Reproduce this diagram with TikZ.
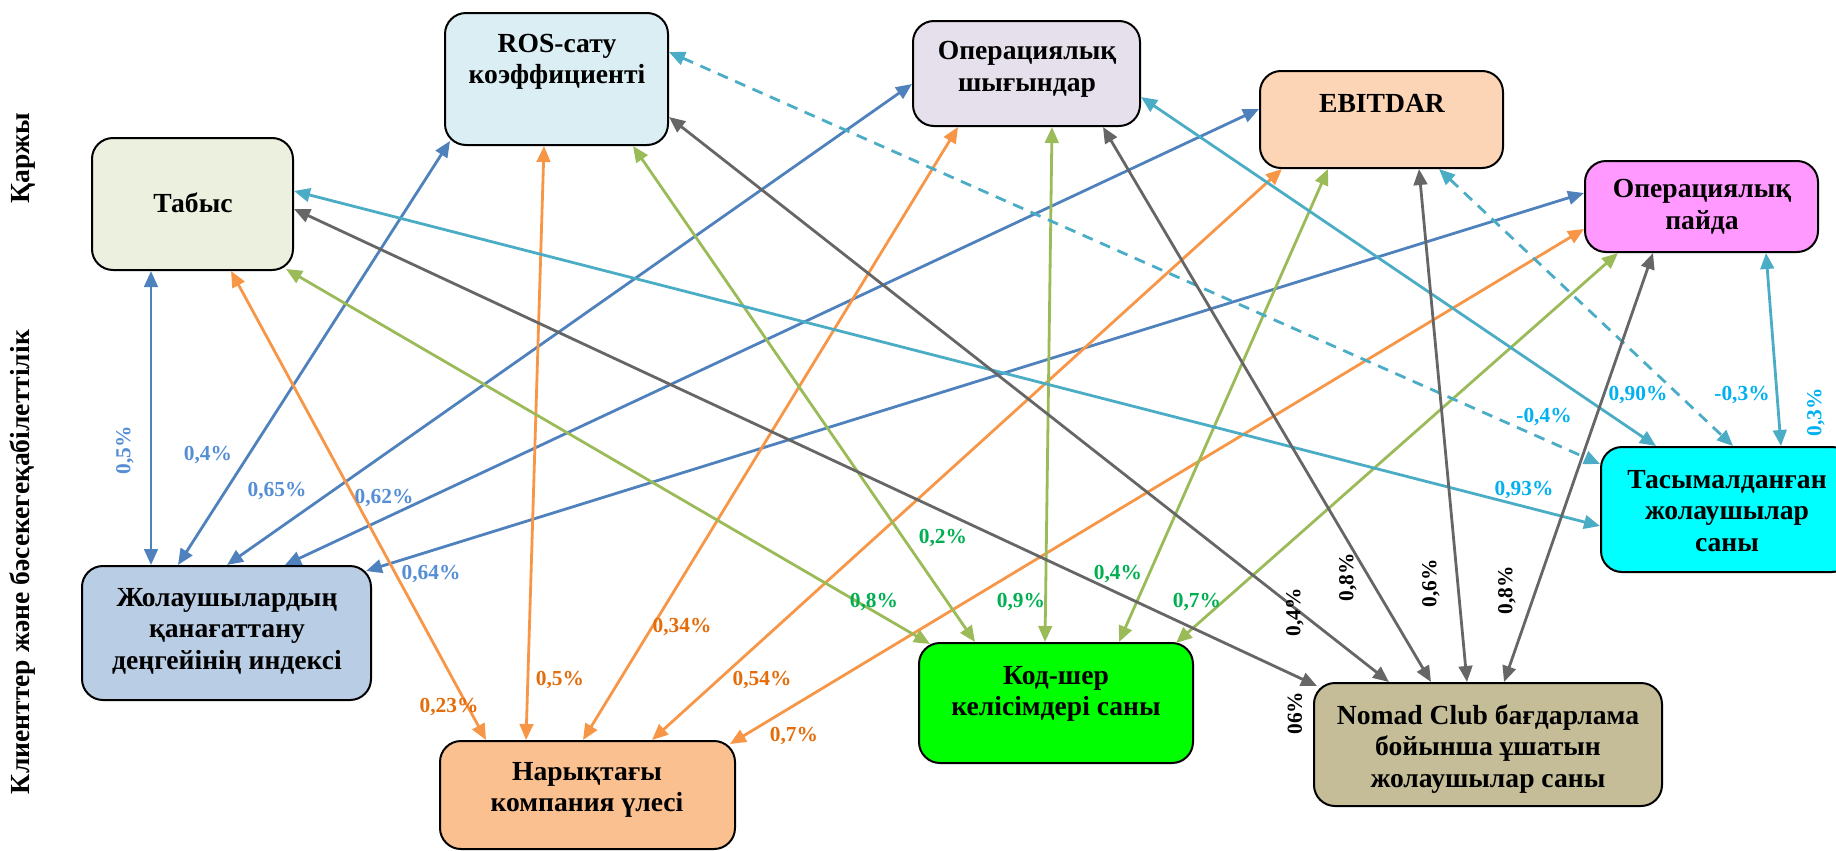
\documentclass[tikz,border=0pt]{standalone}
\usepackage{fontspec}
\setmainfont{Liberation Serif}
\usetikzlibrary{arrows.meta,calc}

% box fills
\definecolor{fTabys}{HTML}{EBF1DE}
\definecolor{fRos}{HTML}{DBEEF4}
\definecolor{fOpsh}{HTML}{E5E0EC}
\definecolor{fEbit}{HTML}{FBD5B5}
\definecolor{fOppa}{HTML}{FF99FF}
\definecolor{fTasym}{HTML}{00FFFF}
\definecolor{fZhol}{HTML}{B9CDE5}
\definecolor{fNaryk}{HTML}{FAC090}
\definecolor{fKod}{HTML}{00FF00}
\definecolor{fNomad}{HTML}{C4BD97}
% connector colours
\definecolor{lBlue}{HTML}{4F81BD}
\definecolor{lOrange}{HTML}{F79646}
\definecolor{lGreen}{HTML}{9BBB59}
\definecolor{lCyan}{HTML}{4BACC6}
\definecolor{lGray}{HTML}{666666}
% percentage label colours
\definecolor{tBlue}{HTML}{558ED5}
\definecolor{tOrange}{HTML}{E46C0A}
\definecolor{tGreen}{HTML}{00B050}
\definecolor{tCyan}{HTML}{00B0F0}

\begin{document}
\begin{tikzpicture}[x=0.5pt,y=-0.5pt,
  box/.style={draw=black, line width=1pt, rounded corners=10.5pt, inner sep=0pt},
  btxt/.style={font=\bfseries\fontsize{13.8pt}{15.8pt}\selectfont, align=center, inner sep=0pt},
  pct/.style={font=\bfseries\fontsize{10.7pt}{12pt}\selectfont, inner sep=0pt},
  link/.style={line width=1.4pt, {Triangle[length=8pt,width=6.8pt]}-{Triangle[length=8pt,width=6.8pt]}},
  dlink/.style={link, dash pattern=on 5.5pt off 4pt}
]
\useasboundingbox (0,0) rectangle (1836,851);
\clip (0,0) rectangle (1836,851);

% ---- side captions
\node[btxt, rotate=90] (fin) at (23,158) {Қаржы};
\node[btxt, rotate=90] (cust) at (23,562) {Клиенттер және бәсекегеқабілеттілік};

% ---- boxes
\node[box, fill=fTabys, minimum width=100.5pt, minimum height=66pt] (tabys) at (192.5,204) {};
\node[box, fill=fRos,   minimum width=111.5pt, minimum height=66pt] (ros) at (556.5,79) {};
\node[box, fill=fOpsh,  minimum width=113.5pt, minimum height=52.5pt] (opsh) at (1026.5,73.5) {};
\node[box, fill=fEbit,  minimum width=121.5pt, minimum height=48.5pt] (ebit) at (1381.5,119.5) {};
\node[box, fill=fOppa,  minimum width=116.5pt, minimum height=45.5pt] (oppa) at (1701.5,206.5) {};
\node[box, fill=fTasym, minimum width=126pt,   minimum height=62.5pt] (tasym) at (1727,509.5) {};
\node[box, fill=fZhol,  minimum width=144.5pt, minimum height=67pt] (zhol) at (226.5,633) {};
\node[box, fill=fNaryk, minimum width=147.5pt, minimum height=54pt] (naryk) at (587.5,795) {};
\node[box, fill=fKod,   minimum width=137pt,   minimum height=60pt] (kod) at (1056,703) {};
\node[box, fill=fNomad, minimum width=174pt,   minimum height=61.5pt] (nomad) at (1488,744.5) {};

% ---- box texts
\node[btxt] (tabysT) at (193,203) {Табыс};
\node[btxt] (rosT) at (557,62) {ROS-сату\\коэффициенті};
\node[btxt] (opshT) at (1027,69) {Операциялық\\шығындар};
\node[btxt] (ebitT) at (1382,103) {EBITDAR};
\node[btxt] (oppaT) at (1702,207) {Операциялық\\пайда};
\node[btxt] (tasymT) at (1727,511) {Тасымалданған\\жолаушылар\\саны};
\node[btxt] (zholT) at (227,631) {Жолаушылардың\\қанағаттану\\деңгейінің индексі};
\node[btxt] (narykT) at (587,790) {Нарықтағы\\компания үлесі};
\node[btxt] (kodT) at (1056,694) {Код-шер\\келісімдері саны};
\node[btxt] (nomadT) at (1488,749) {Nomad Club бағдарлама\\бойынша ұшатын\\жолаушылар саны};

% ---- blue: links to the satisfaction index
\draw[link, lBlue] ($(tabys.south west)+(60,0)$) -- ($(zhol.north west)+(70,0)$);
\draw[link, lBlue] ($(ros.south west)+(6,-5)$) -- ($(zhol.north west)+(97,0)$);
\draw[link, lBlue] ($(opsh.north west)+(0,64)$) -- ($(zhol.north west)+(146,0)$);
\draw[link, lBlue] ($(ebit.north west)+(0,39)$) -- ($(zhol.north west)+(204,0)$);
\draw[link, lBlue] ($(oppa.north west)+(0,33)$) -- ($(zhol.north east)+(-6,6)$);

% ---- orange: links to market share
\draw[link, lOrange] ($(tabys.south west)+(140,0)$) -- ($(naryk.north west)+(47,0)$);
\draw[link, lOrange] ($(ros.south west)+(100,0)$) -- ($(naryk.north west)+(87,0)$);
\draw[link, lOrange] ($(opsh.south west)+(46,0)$) -- ($(naryk.north west)+(144,0)$);
\draw[link, lOrange] ($(ebit.south west)+(23,0)$) -- ($(naryk.north west)+(213,0)$);
\draw[link, lOrange] ($(oppa.north west)+(0,69)$) -- ($(naryk.north east)+(-6,4)$);

% ---- green: links to code-share agreements
\draw[link, lGreen] ($(tabys.south east)+(-8,-2)$) -- ($(kod.north west)+(12,2)$);
\draw[link, lGreen] ($(ros.south east)+(-36,0)$) -- ($(kod.north west)+(57,0)$);
\draw[link, lGreen] ($(opsh.south west)+(140,0)$) -- ($(kod.north west)+(127,0)$);
\draw[link, lGreen] ($(ebit.south west)+(69,0)$) -- ($(kod.north west)+(201,0)$);
\draw[link, lGreen] ($(oppa.south west)+(34,0)$) -- ($(kod.north east)+(-18,1)$);

% ---- cyan: links to passengers carried
\draw[link, lCyan] ($(tabys.north east)+(0,54)$) -- ($(tasym.north west)+(0,80)$);
\draw[dlink, lCyan] ($(ros.north east)+(0,40)$) -- ($(tasym.north west)+(0,18)$);
\draw[link, lCyan] ($(opsh.north east)+(0,77)$) -- ($(tasym.north west)+(56,0)$);
\draw[dlink, lCyan] ($(ebit.south west)+(180,0)$) -- ($(tasym.north west)+(133,0)$);
\draw[link, lCyan] ($(oppa.south west)+(182,0)$) -- ($(tasym.north west)+(181,0)$);

% ---- gray: links to Nomad Club passengers
\draw[link, lGray] ($(tabys.north east)+(0,72)$) -- ($(nomad.north west)+(4,4)$);
\draw[link, lGray] ($(ros.north east)+(0,105)$) -- ($(nomad.north west)+(76,0)$);
\draw[link, lGray] ($(opsh.south west)+(191,0)$) -- ($(nomad.north west)+(118,0)$);
\draw[link, lGray] ($(ebit.south west)+(160,0)$) -- ($(nomad.north west)+(154,0)$);
\draw[link, lGray] ($(oppa.south west)+(69,0)$) -- ($(nomad.north west)+(191,0)$);

% ---- percentages
\node[pct, tBlue, rotate=90] (pB1) at (125,450) {0,5\%};
\node[pct, tBlue] (pB2) at (208,455) {0,4\%};
\node[pct, tBlue] (pB3) at (277,491) {0,65\%};
\node[pct, tBlue] (pB4) at (384,498) {0,62\%};
\node[pct, tBlue] (pB5) at (431,574) {0,64\%};

\node[pct, tOrange] (pO1) at (449,707) {0,23\%};
\node[pct, tOrange] (pO2) at (560,680) {0,5\%};
\node[pct, tOrange] (pO3) at (682,627) {0,34\%};
\node[pct, tOrange] (pO4) at (762,680) {0,54\%};
\node[pct, tOrange] (pO5) at (794,736) {0,7\%};

\node[pct, tGreen] (pG1) at (874,602) {0,8\%};
\node[pct, tGreen] (pG2) at (943,538) {0,2\%};
\node[pct, tGreen] (pG3) at (1021,602) {0,9\%};
\node[pct, tGreen] (pG4) at (1118,574) {0,4\%};
\node[pct, tGreen] (pG5) at (1197,602) {0,7\%};

\node[pct, tCyan] (pC1) at (1524,490) {0,93\%};
\node[pct, tCyan] (pC2) at (1544,417) {-0,4\%};
\node[pct, tCyan] (pC3) at (1638,395) {0,90\%};
\node[pct, tCyan] (pC4) at (1742,395) {-0,3\%};
\node[pct, tCyan, rotate=90] (pC5) at (1816,412) {0,3\%};

\node[pct, rotate=90] (pK1) at (1295,612) {0,4\%};
\node[pct, rotate=90] (pK2) at (1348,577) {0,8\%};
\node[pct, rotate=90] (pK3) at (1431,583) {0,6\%};
\node[pct, rotate=90] (pK4) at (1507,590) {0,8\%};
\node[pct, rotate=90] (pK5) at (1295,713) {06\%};
\end{tikzpicture}
\end{document}
